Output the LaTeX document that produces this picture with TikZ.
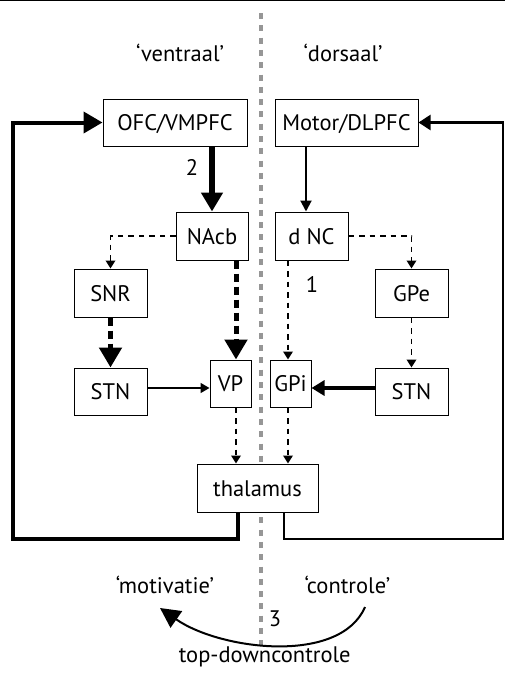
\documentclass[tikz,border=0pt]{standalone}
\usepackage{fontspec}
\setmainfont{PT Sans}
\usetikzlibrary{arrows.meta,calc}
\definecolor{dgray}{RGB}{150,150,150}
\begin{document}
\begin{tikzpicture}[x=1pt,y=-1pt,
  txt/.style={font=\fontsize{22.5}{27}\selectfont},
  box/.style={txt,draw,line width=1pt,fill=white,inner sep=0pt,text height=16pt,text depth=0pt},
  lbl/.style={txt,inner sep=0pt,anchor=base},
  divider/.style={draw=dgray,line width=4pt,dash pattern=on 6pt off 6.3pt},
  thinsolid/.style={line width=1.6pt,-{Triangle[length=9pt,width=10pt]}},
  thinsolidB/.style={line width=2pt,-{Triangle[length=11pt,width=11pt]}},
  thicksolid/.style={line width=6pt,-{Triangle[length=19pt,width=21pt]}},
  medsolid/.style={line width=4.3pt,-{Triangle[length=13pt,width=15pt]}},
  thindash/.style={line width=1.8pt,dash pattern=on 5.5pt off 5pt,-{Triangle[length=8pt,width=9.5pt]}},
  thickdash/.style={line width=5pt,dash pattern=on 8pt off 5pt,-{Triangle[length=20pt,width=22pt]}},
  loopL/.style={line width=4pt,-{Triangle[length=19pt,width=21pt]}},
  loopR/.style={line width=2.3pt,-{Triangle[length=12pt,width=15pt]}},
  curvearrow/.style={line width=2pt,-{Triangle[length=20pt,width=20pt]}}
]
\useasboundingbox (0,0) rectangle (505,673);
% top rule
\coordinate (tl) at (0,0.7);
\coordinate (tr) at (505,0.7);
\draw[line width=1.4pt] (tl) -- (tr);
% divider
\coordinate (dtop) at (261,13);
\coordinate (dbot) at (261,646);
\draw[divider] (dtop) -- (dbot);

% headings
\node[lbl] (ventraal) at (180,61) {‘ventraal’};
\node[lbl] (dorsaal) at (343,61) {‘dorsaal’};

% boxes
\node[box,minimum width=144pt,minimum height=47pt] (OFC) at (175,122.5) {OFC/VMPFC};
\node[box,minimum width=143pt,minimum height=47pt] (MOT) at (346.5,122.5) {Motor/DLPFC};
\node[box,minimum width=72pt,minimum height=48pt] (NAcb) at (212,236) {NAcb};
\node[box,minimum width=73pt,minimum height=48pt] (dNC) at (311.5,236) {d NC};
\node[box,minimum width=73pt,minimum height=48pt] (SNR) at (110.5,293) {SNR};
\node[box,minimum width=73pt,minimum height=48pt] (GPe) at (411.5,293) {GPe};
\node[box,minimum width=73pt,minimum height=47pt] (STNL) at (110.5,391.5) {STN};
\node[box,minimum width=73pt,minimum height=47pt] (STNR) at (411.5,391.5) {STN};
\node[box,minimum width=41pt,minimum height=47pt] (VP) at (230.5,383.5) {VP};
\node[box,minimum width=41pt,minimum height=47pt] (GPi) at (290.5,383.5) {GPi};
\node[box,minimum width=121pt,minimum height=48pt] (thal) at (257.5,488) {thalamus};

% number labels
\node[lbl] (n2) at (192,175) {2};
\node[lbl] (n1) at (312,292.5) {1};
\node[lbl] (n3) at (275,626) {3};

% connectors
\draw[thicksolid] (NAcb.north |- OFC.south) -- (NAcb.north);
\draw[thinsolidB] ([xshift=-5.5pt]dNC.north |- MOT.south) -- ([xshift=-5.5pt]dNC.north);
\draw[thindash] (NAcb.west) -| (SNR.north);
\draw[thindash] (dNC.east) -| (GPe.north);
\draw[thickdash] ([xshift=5.5pt]VP.north |- NAcb.south) -- ([xshift=5.5pt]VP.north);
\draw[thickdash] (SNR.south) -- (STNL.north);
\draw[thindash] ([xshift=-2.5pt]GPi.north |- dNC.south) -- ([xshift=-2.5pt]GPi.north);
\draw[thindash] (GPe.south) -- (STNR.north);
\draw[thinsolid] ([yshift=3.5pt]STNL.east) -- ([yshift=3.5pt]STNL.east -| VP.west);
\draw[medsolid] ([yshift=3.5pt]STNR.west) -- ([yshift=3.5pt]STNR.west -| GPi.east);
\draw[thindash] ([xshift=5.5pt]VP.south) -- ([xshift=5.5pt]VP.south |- thal.north);
\draw[thindash] ([xshift=-2.5pt]GPi.south) -- ([xshift=-2.5pt]GPi.south |- thal.north);

% loops
\coordinate (L1) at (13,539);
\coordinate (R1) at (503,539);
\draw[loopL] ([xshift=-19.5pt]thal.south) |- (L1) |- (OFC.west);
\draw[loopR] ([xshift=26.5pt]thal.south) |- (R1) |- (MOT.east);

% bottom
\node[lbl] (motiv) at (165,593) {‘motivatie’};
\node[lbl] (contr) at (347.5,593) {‘controle’};
\node[lbl] (tdc) at (264.7,662) {top-downcontrole};
\coordinate (cs) at (365,607);
\coordinate (ce) at (160,608);
\draw[curvearrow] (cs) .. controls (340,665) and (220,650) .. (ce);
\end{tikzpicture}
\end{document}
